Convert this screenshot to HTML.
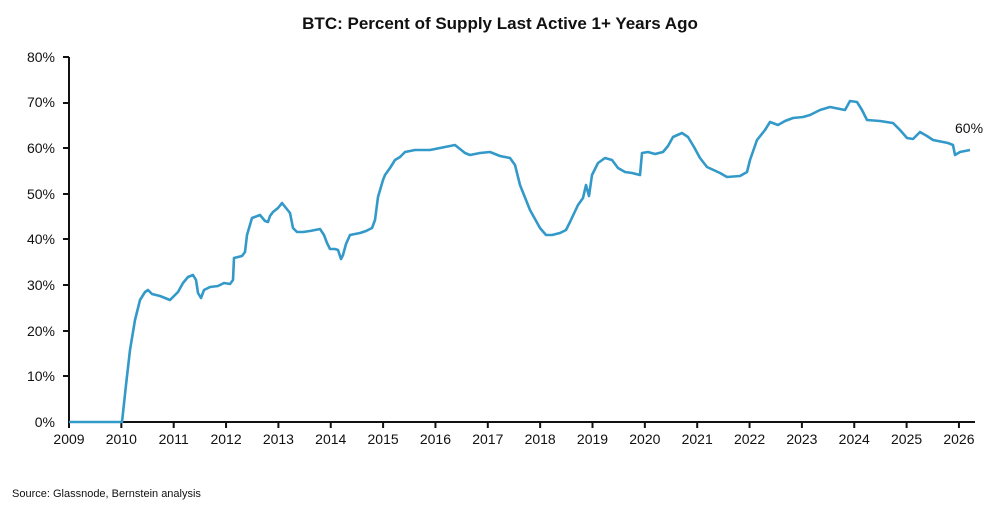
<!DOCTYPE html><html><head><style>body{margin:0;background:#fff;font-family:"Liberation Sans",sans-serif}</style></head><body>
<svg width="1000" height="511" xmlns="http://www.w3.org/2000/svg" font-family="Liberation Sans, sans-serif">
<text x="500" y="29" text-anchor="middle" font-size="17" font-weight="bold" fill="#111">BTC: Percent of Supply Last Active 1+ Years Ago</text>
<g font-size="14" fill="#111" text-anchor="end">
<text x="55" y="427">0%</text><text x="55" y="381">10%</text><text x="55" y="336">20%</text><text x="55" y="290">30%</text><text x="55" y="244">40%</text><text x="55" y="199">50%</text><text x="55" y="153">60%</text><text x="55" y="107">70%</text><text x="55" y="62">80%</text>
</g>
<g stroke="#111" stroke-width="2">
<line x1="69" y1="57" x2="69" y2="423"/><line x1="68" y1="422" x2="975" y2="422"/>
<line x1="63" y1="57" x2="69" y2="57"/><line x1="63" y1="103" x2="69" y2="103"/><line x1="63" y1="148" x2="69" y2="148"/><line x1="63" y1="194" x2="69" y2="194"/><line x1="63" y1="239" x2="69" y2="239"/><line x1="63" y1="285" x2="69" y2="285"/><line x1="63" y1="331" x2="69" y2="331"/><line x1="63" y1="376" x2="69" y2="376"/>
</g>
<g stroke="#111" stroke-width="2" id="t"></g>
<g font-size="14" fill="#111" text-anchor="middle" id="xl"></g>
<script>
var t=document.getElementById('t'),xl=document.getElementById('xl'),ns='http://www.w3.org/2000/svg';
for(var y=2009;y<=2026;y++){var x=69+(y-2009)*52.35;var l=document.createElementNS(ns,'line');l.setAttribute('x1',x);l.setAttribute('x2',x);l.setAttribute('y1',422);l.setAttribute('y2',428);t.appendChild(l);var s=document.createElementNS(ns,'text');s.setAttribute('x',x);s.setAttribute('y',444);s.textContent=y;xl.appendChild(s);}
</script>
<polyline fill="none" stroke="#3399c9" stroke-width="2.6" stroke-linejoin="round" points="69,422 122,422 126,385 130,350 135,320 140,300 145,292 148,290 152,294 160,296 170,300 172,298 178,292 183,283 188,277 193,275 196,280 198,293 201,298 204,290 210,287 218,286 224,283 230,284 233,280 234,258 238,257 242,256 245,252 247,235 252,218 260,215 265,221 268,222 270,216 273,212 278,208 282,203 286,208 290,213 293,228 297,232 303,232 310,231 315,230 320,229 324,235 327,243 330,249 335,249 338,250 341,259 343,255 346,244 350,235 360,233 366,231 372,228 375,220 378,197 383,180 385,175 390,168 395,160 400,157 405,152 415,150 430,150 440,148 450,146 455,145 460,149 465,153 470,155 480,153 490,152 500,156 510,158 515,165 520,185 530,210 540,228 546,235 552,235 560,233 566,230 570,222 578,205 583,198 586,185 589,196 592,175 598,163 605,158 612,160 618,168 625,172 632,173 640,175 642,153 648,152 655,154 663,152 668,146 673,137 682,133 688,137 694,147 700,158 707,167 720,173 727,177 740,176 747,172 750,160 757,140 765,130 770,122 778,125 785,121 793,118 803,117 810,115 820,110 830,107 845,110 850,101 857,102 862,110 867,120 880,121 893,123 900,130 907,138 913,139 920,132 927,136 933,140 948,143 953,145 955,155 960,152 970,150"/>
<text x="955" y="133" font-size="14" fill="#111">60%</text>
<text x="12" y="497" font-size="11" fill="#111">Source: Glassnode, Bernstein analysis</text>
</svg></body></html>
